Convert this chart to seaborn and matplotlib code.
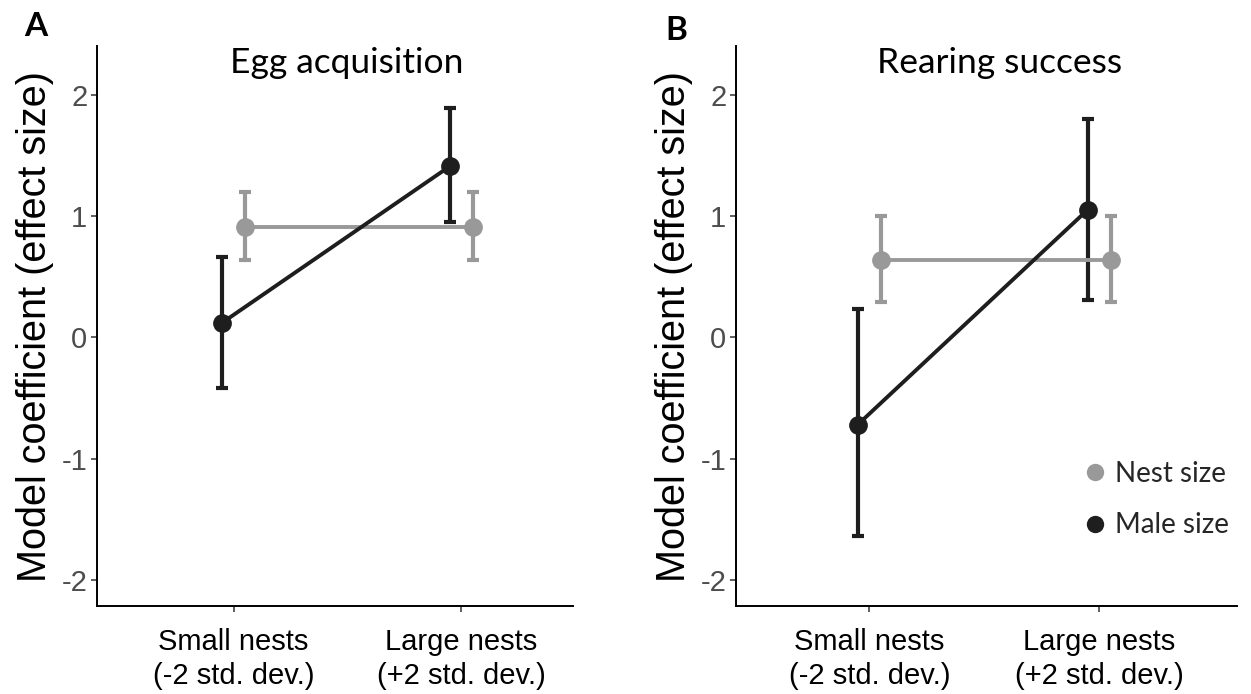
import numpy as np
import pandas as pd
import seaborn as sns
import matplotlib.pyplot as plt
from matplotlib.lines import Line2D

# Categories on the x axis
categories = ["Small nests\n(-2 std. dev.)", "Large nests\n(+2 std. dev.)"]
series = ["Nest size", "Male size"]

# Egg acquisition: estimates and interval bounds
egg_nest = [0.91, 0.91]
egg_nest_lo = [0.64, 0.64]
egg_nest_hi = [1.20, 1.20]
egg_male = [0.12, 1.41]
egg_male_lo = [-0.42, 0.95]
egg_male_hi = [0.66, 1.89]

# Rearing success: estimates and interval bounds
rear_nest = [0.64, 0.64]
rear_nest_lo = [0.29, 0.29]
rear_nest_hi = [1.00, 1.00]
rear_male = [-0.72, 1.05]
rear_male_lo = [-1.64, 0.31]
rear_male_hi = [0.23, 1.80]

yticks = [-2, -1, 0, 1, 2]

GREY = "#999999"
BLACK = "#1e1e1e"
palette = {"Nest size": GREY, "Male size": BLACK}
dodge = {"Nest size": 0.05, "Male size": -0.05}

sns.set_theme(style="white")
plt.rcParams["font.family"] = ["Liberation Sans", "DejaVu Sans"]

fig = plt.figure(figsize=(12.51, 6.94), dpi=100)
axA = fig.add_axes([97 / 1251, 1 - 606 / 694, (573 - 97) / 1251, (606 - 46) / 694])
axB = fig.add_axes([736 / 1251, 1 - 606 / 694, (1237 - 736) / 1251, (606 - 46) / 694])


def build_frame(nest, nest_lo, nest_hi, male, male_lo, male_hi):
    rows = []
    for name, vals, lo, hi in [("Nest size", nest, nest_lo, nest_hi),
                               ("Male size", male, male_lo, male_hi)]:
        for i, (v, l, h) in enumerate(zip(vals, lo, hi)):
            rows.append({"series": name, "pos": i + dodge[name],
                         "coef": v, "lo": l, "hi": h})
    return pd.DataFrame(rows)


def draw_panel(ax, df, title, title_x, letter, letter_xy, xlim):
    for name in series:
        sub = df[df["series"] == name]
        ax.errorbar(sub["pos"], sub["coef"],
                    yerr=[sub["coef"] - sub["lo"], sub["hi"] - sub["coef"]],
                    fmt="none", ecolor=palette[name], elinewidth=3.0,
                    capsize=4.0, capthick=3.0, zorder=2)
    sns.lineplot(data=df, x="pos", y="coef", hue="series", hue_order=series,
                 palette=palette, marker="o", markersize=13.5, markeredgewidth=0,
                 linewidth=2.8, legend=False, ax=ax, zorder=3, sort=False)

    ax.set_xlim(*xlim)
    ax.set_ylim(-2.215, 2.40)
    ax.set_xticks(range(len(categories)))
    ax.set_xticklabels(categories, fontsize=21, color="black", linespacing=1.25)
    ax.set_yticks(yticks)
    ax.set_yticklabels([str(t) for t in yticks], fontsize=21, color="#4d4d4d")
    ax.tick_params(axis="both", which="major", length=4, width=1.1,
                   color="#333333", bottom=True, left=True, direction="out")
    ax.tick_params(axis="x", pad=12)
    ax.tick_params(axis="y", pad=3)
    ax.set_xlabel("")
    ax.set_ylabel("Model coefficient (effect size)", fontsize=28.5, color="black",
                  labelpad=5)
    for side in ["top", "right"]:
        ax.spines[side].set_visible(False)
    for side in ["left", "bottom"]:
        ax.spines[side].set_color("black")
        ax.spines[side].set_linewidth(1.4)

    fig.text(title_x, 1 - 63 / 694, title, fontsize=25.5, family=["Lato", "DejaVu Sans"],
             ha="center", va="center", color="black")
    fig.text(letter_xy[0] / 1251, 1 - letter_xy[1] / 694, letter, fontsize=24,
             fontweight="bold", family=["Lato", "DejaVu Sans"],
             ha="center", va="center", color="black")


dfA = build_frame(egg_nest, egg_nest_lo, egg_nest_hi, egg_male, egg_male_lo, egg_male_hi)
dfB = build_frame(rear_nest, rear_nest_lo, rear_nest_hi, rear_male, rear_male_lo, rear_male_hi)

draw_panel(axA, dfA, "Egg acquisition", 347 / 1251, "A", (36, 26), (-0.6, 1.49))
draw_panel(axB, dfB, "Rearing success", 1000 / 1251, "B", (676, 30), (-0.58, 1.6))

handles = [Line2D([0], [0], linestyle="none", marker="o", markersize=12.5,
                  markeredgewidth=0, color=palette[s]) for s in series]
leg = axB.legend(handles, series, loc="lower left", bbox_to_anchor=(0.673, 0.101),
                 frameon=False, handlelength=0.8, handletextpad=0.3,
                 labelspacing=0.91, borderaxespad=0,
                 prop={"family": ["Lato", "DejaVu Sans"], "size": 20})

fig.savefig("out.png", dpi=100, facecolor="white")
